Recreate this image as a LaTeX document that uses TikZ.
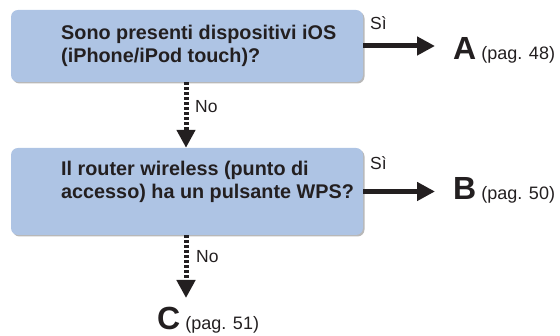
\documentclass[tikz,border=0pt]{standalone}
\usepackage{fontspec}
\setmainfont{Liberation Sans}
\usetikzlibrary{arrows.meta,shadows}
\definecolor{boxblue}{RGB}{174,196,228}
\definecolor{ink}{RGB}{35,31,32}
\begin{document}
\begin{tikzpicture}[x=1pt,y=1pt,
  qbox/.style={draw=none,fill=boxblue,rounded corners=7pt,minimum width=352pt,inner sep=0pt,
    drop shadow={shadow xshift=1.5pt,shadow yshift=-1.5pt,fill=black!28,opacity=1}},
  qtext/.style={anchor=north west,inner sep=0pt,align=left,text=ink,font=\fontsize{19.8}{23.5}\selectfont\bfseries},
  lbl/.style={inner sep=0pt,anchor=base west,text=ink,font=\fontsize{17.5}{20}\selectfont},
  dest/.style={inner sep=0pt,anchor=base west,text=ink},
  yesarrow/.style={draw=ink,line width=5pt,-{Triangle[length=18pt,width=18pt]}},
  noarrow/.style={draw=ink,line width=5pt,dash pattern=on 3pt off 2pt,-{Triangle[length=18pt,width=18pt]}}
]
\useasboundingbox (0,0) rectangle (560,336);
\node[qbox,minimum height=72pt] (q1) at (187,290) {};
\node[qtext] (q1t) at (61,311.5) {Sono presenti dispositivi iOS\\(iPhone/iPod touch)?};
\node[qbox,minimum height=87pt] (q2) at (187,144.5) {};
\node[qtext] (q2t) at (61,175.5) {Il router wireless (punto di\\accesso) ha un pulsante WPS?};
% destinations
\node[dest] (a) at (453,276) {{\fontsize{32}{32}\selectfont\bfseries A}\hspace{5pt}{\fontsize{18}{20}\selectfont(pag. 48)}};
\node[dest] (b) at (453,136) {{\fontsize{32}{32}\selectfont\bfseries B}\hspace{5pt}{\fontsize{18}{20}\selectfont(pag. 50)}};
\node[dest] (c) at (157,6) {{\fontsize{32}{32}\selectfont\bfseries C}\hspace{5pt}{\fontsize{18}{20}\selectfont(pag. 51)}};
\coordinate (ta) at (435,290);
\coordinate (tb) at (435,144.5);
\coordinate (tc) at (186,38);
% connectors
\draw[yesarrow] (q1.east |- ta) -- (ta);
\draw[yesarrow] (q2.east |- tb) -- (tb);
\draw[noarrow] (q1.south -| tc) -- (q2.north -| tc);
\draw[noarrow] (q2.south -| tc) -- (tc);
% labels
\node[lbl] (s1) at (370,306) {Sì};
\node[lbl] (s2) at (370,166) {Sì};
\node[lbl] (n1) at (195,223) {No};
\node[lbl] (n2) at (196,73) {No};
\end{tikzpicture}
\end{document}
